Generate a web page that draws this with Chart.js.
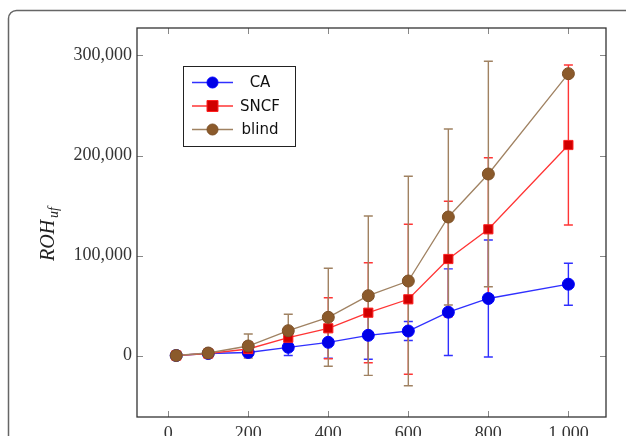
<!DOCTYPE html>
<html lang="en">
<head>
<meta charset="UTF-8">
<title>ROH chart</title>
<script src="https://cdn.jsdelivr.net/npm/chart.js@4.4.1/dist/chart.umd.min.js"></script>
<style>
  html, body { margin: 0; padding: 0; background: #fff; }
</style>
</head>
<body>
<canvas id="canvas" width="626" height="436"></canvas>
<script>
// values
const xValues = [20, 100, 200, 300, 400, 500, 600, 700, 800, 1000];

const caMean = [0, 2000, 3000, 8200, 13200, 20200, 24500, 43300, 57000, 71300];
const caErr = [500, 1000, 1500, 8200, 16000, 24000, 9500, 43300, 58500, 21000];

const sncfMean = [0, 2000, 6500, 17800, 27200, 42800, 56200, 96500, 126200, 210500];
const sncfErr = [500, 1000, 7000, 5000, 30500, 50000, 75000, 57700, 71600, 80000];

const blindMean = [0, 2500, 9500, 24800, 38200, 59800, 74500, 138500, 181500, 281800];
const blindErr = [500, 1500, 12000, 16400, 49000, 79700, 104700, 88000, 112700, 2000];

const xTicks = [0, 200, 400, 600, 800, 1000];
const yTicks = [0, 100000, 200000, 300000];

const serif = '"Liberation Serif", "DejaVu Serif", serif';
const sans = '"DejaVu Sans", "Noto Sans", sans-serif';

function pts(means) {
    return xValues.map((x, i) => ({ x: x, y: means[i] }));
}

const series = [
    { label: 'CA', mean: caMean, err: caErr, line: '#3030ff', fill: '#0000e6', edge: '#0000ff', style: 'circle', order: 3 },
    { label: 'SNCF', mean: sncfMean, err: sncfErr, line: '#ff3535', fill: '#d00000', edge: '#ff2020', style: 'rect', order: 2 },
    { label: 'blind', mean: blindMean, err: blindErr, line: '#a08262', fill: '#8b5a2b', edge: '#7c5026', style: 'circle', order: 1 }
];

// error bars, box, inward ticks, y title, legend and outer frame
const decor = {
    id: 'decor',
    beforeDraw(chart) {
        const c = chart.ctx;
        c.save();
        c.strokeStyle = '#666';
        c.lineWidth = 1.5;
        c.beginPath();
        const r = 8, x0 = 8.5, y0 = 10.5;
        c.moveTo(x0, 460);
        c.lineTo(x0, y0 + r);
        c.arcTo(x0, y0, x0 + r, y0, r);
        c.lineTo(640, y0);
        c.stroke();
        c.restore();
    },
    beforeDatasetsDraw(chart) {
        const c = chart.ctx;
        const xs = chart.scales.x, ys = chart.scales.y;
        const a = chart.chartArea;
        c.save();
        c.beginPath();
        c.rect(a.left, a.top, a.right - a.left, a.bottom - a.top);
        c.clip();
        series.forEach(s => {
            c.strokeStyle = s.line;
            c.lineWidth = 1.4;
            xValues.forEach((xv, i) => {
                const px = xs.getPixelForValue(xv);
                const hi = ys.getPixelForValue(s.mean[i] + s.err[i]);
                const lo = ys.getPixelForValue(s.mean[i] - s.err[i]);
                c.beginPath();
                c.moveTo(px, hi); c.lineTo(px, lo);
                c.moveTo(px - 4.5, hi); c.lineTo(px + 4.5, hi);
                c.moveTo(px - 4.5, lo); c.lineTo(px + 4.5, lo);
                c.stroke();
            });
        });
        c.restore();
    },
    afterDraw(chart) {
        const c = chart.ctx;
        const xs = chart.scales.x, ys = chart.scales.y;
        const a = chart.chartArea;
        c.save();
        // inward ticks
        c.strokeStyle = '#888';
        c.lineWidth = 1;
        c.beginPath();
        xTicks.forEach(v => {
            const px = Math.round(xs.getPixelForValue(v)) + 0.5;
            c.moveTo(px, a.bottom); c.lineTo(px, a.bottom - 6);
            c.moveTo(px, a.top); c.lineTo(px, a.top + 6);
        });
        yTicks.forEach(v => {
            const py = Math.round(ys.getPixelForValue(v)) + 0.5;
            c.moveTo(a.left, py); c.lineTo(a.left + 6, py);
            c.moveTo(a.right, py); c.lineTo(a.right - 6, py);
        });
        c.stroke();
        // axis box
        c.strokeStyle = '#333';
        c.lineWidth = 1.3;
        c.strokeRect(a.left, a.top, a.right - a.left, a.bottom - a.top);

        // y title  ROH_uf
        c.translate(47, 234);
        c.rotate(-Math.PI / 2);
        c.fillStyle = '#222';
        c.textBaseline = 'alphabetic';
        const main = 'ROH';
        c.font = 'italic 20px ' + serif;
        const w1 = c.measureText(main).width;
        c.font = 'italic 14px ' + serif;
        const w2 = c.measureText('uf').width;
        const x0 = -(w1 + w2 + 2) / 2;
        c.font = 'italic 20px ' + serif;
        c.fillText(main, x0, 7);
        c.font = 'italic 14px ' + serif;
        c.fillText('uf', x0 + w1 + 2, 11);
        c.restore();

        // legend
        c.save();
        const L = 183.5, T = 66.5, W = 112, H = 80;
        c.fillStyle = '#fff';
        c.fillRect(L, T, W, H);
        c.strokeStyle = '#222';
        c.lineWidth = 1;
        c.strokeRect(L, T, W, H);
        const rows = [82.5, 106, 129.5];
        series.forEach((s, i) => {
            const y = rows[i];
            c.strokeStyle = s.line;
            c.lineWidth = 1.3;
            c.beginPath();
            c.moveTo(192, y); c.lineTo(233, y);
            c.stroke();
            c.fillStyle = s.fill;
            c.strokeStyle = s.edge;
            c.lineWidth = 1;
            c.beginPath();
            if (s.style === 'circle') {
                c.arc(212.5, y, 5.5, 0, Math.PI * 2);
            } else {
                c.rect(207, y - 5.5, 11, 11);
            }
            c.fill();
            c.stroke();
            c.fillStyle = '#111';
            c.font = '15px ' + sans;
            c.textAlign = 'center';
            c.textBaseline = 'middle';
            c.fillText(s.label, 260, y + 1);
        });
        c.restore();
    }
};

const ctx = document.getElementById('canvas').getContext('2d');
new Chart(ctx, {
    type: 'line',
    data: {
        datasets: series.map(s => ({
            label: s.label,
            data: pts(s.mean),
            borderColor: s.line,
            borderWidth: 1.3,
            backgroundColor: s.fill,
            pointBackgroundColor: s.fill,
            pointBorderColor: s.edge,
            pointBorderWidth: 1,
            pointStyle: s.style,
            pointRadius: s.style === 'rect' ? 6.5 : 6,
            tension: 0,
            fill: false,
            order: s.order
        }))
    },
    options: {
        responsive: false,
        animation: false,
        events: [],
        layout: { padding: { left: 0, top: 28, right: 20, bottom: 0 } },
        plugins: {
            legend: { display: false },
            tooltip: { enabled: false }
        },
        scales: {
            x: {
                type: 'linear',
                min: -78,
                max: 1094,
                grid: { display: false, drawTicks: false },
                border: { display: false },
                afterFit(s) { s.height = 19; },
                afterBuildTicks(s) { s.ticks = xTicks.map(v => ({ value: v })); },
                ticks: {
                    padding: 6,
                    color: '#333',
                    font: { family: serif, size: 18 },
                    callback: v => v.toLocaleString('en-US')
                }
            },
            y: {
                type: 'linear',
                min: -61500,
                max: 327500,
                grid: { display: false, drawTicks: false },
                border: { display: false },
                afterFit(s) { s.width = 137; },
                afterBuildTicks(s) { s.ticks = yTicks.map(v => ({ value: v })); },
                ticks: {
                    padding: 5,
                    color: '#333',
                    font: { family: serif, size: 18 },
                    callback: v => v.toLocaleString('en-US')
                }
            }
        }
    },
    plugins: [decor]
});
</script>
</body>
</html>
